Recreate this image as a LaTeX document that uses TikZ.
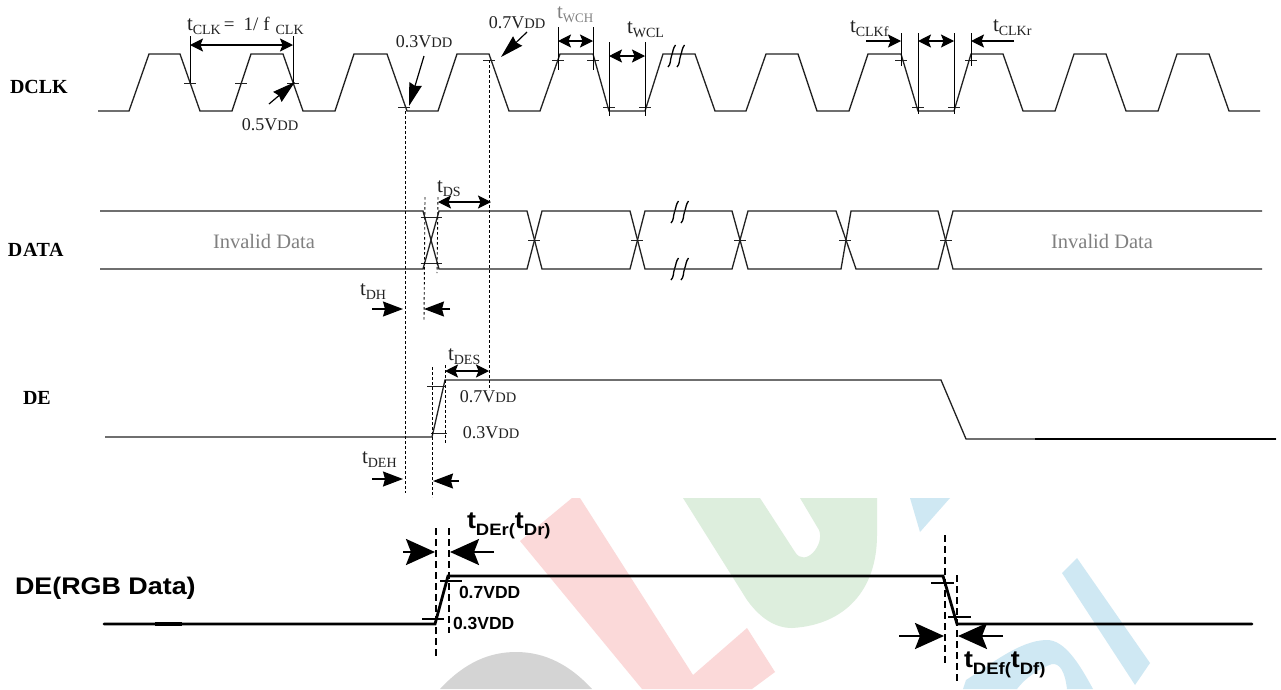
\documentclass[tikz,border=0pt]{standalone}
\usepackage{fontspec}
\setmainfont{Liberation Serif}
\newfontfamily\arialf{Liberation Sans}
\usetikzlibrary{arrows.meta}
\definecolor{wmred}{HTML}{FBD9D9}
\definecolor{wmgreen}{HTML}{DDEEDD}
\definecolor{wmblue}{HTML}{CFE8F3}
\definecolor{wmgray}{HTML}{D4D4D4}
\definecolor{ink}{HTML}{222222}
\newcommand{\fsz}[1]{\fontsize{#1}{#1}\selectfont}
\newcommand{\tsub}[1]{{\fsz{21}t}\raisebox{-4pt}{\fsz{14}#1}}
\newcommand{\vdd}[1]{{\fsz{18}#1V}{\fsz{14.5}DD}}
\newcommand{\bigt}[2]{\scalebox{1.12}[1]{\arialf\bfseries{\fsz{24}t}\raisebox{-7pt}{\fsz{16.5}#1}{\fsz{24}t}\raisebox{-7pt}{\fsz{16.5}#2}}}
\tikzset{
  sig/.style={draw=ink,line width=1.3pt,line join=miter},
  thin tick/.style={draw=ink,line width=1pt},
  guide/.style={draw=black,line width=0.9pt},
  dot/.style={draw=black,line width=0.9pt,dash pattern=on 2.5pt off 2.5pt},
  dash line/.style={draw=black,line width=1.6pt,dash pattern=on 7pt off 4pt},
  bold sig/.style={draw=black,line width=2.8pt,line cap=round},
  bold tick/.style={draw=black,line width=2.2pt},
  smallarrow/.style={draw=black,line width=1.3pt,{Stealth[length=13pt,width=13pt,inset=2.5pt]}-{Stealth[length=13pt,width=13pt,inset=2.5pt]}},
  onearrow/.style={draw=black,line width=1.3pt,-{Stealth[length=13pt,width=13pt,inset=2.5pt]}},
  midarrow/.style={draw=black,line width=1.3pt,-{Stealth[length=20pt,width=15pt,inset=2pt]}},
  callout/.style={draw=black,line width=1.2pt,-{Stealth[length=23pt,width=13pt,inset=2pt]}},
  bigarrow/.style={draw=black,line width=2.4pt,-{Stealth[length=29pt,width=26pt,inset=5pt]}},
  txt/.style={inner sep=0pt,outer sep=0pt,text=ink},
  rowlabel/.style={inner sep=0pt,outer sep=0pt,anchor=west,text=black,font=\fsz{20}\bfseries},
}
\begin{document}
\begin{tikzpicture}[x=1pt,y=-1pt]
\useasboundingbox (0,0) rectangle (1281,689);
\fill[white] (0,0) rectangle (1281,689);
% watermark
\fill[wmgray] (440,689) .. controls (465,662) and (490,652) .. (516,652) .. controls (545,652) and (570,665) .. (592,689) -- cycle;
\fill[wmred] (520,541) -- (572,498) -- (580,498) -- (693,675) -- (747,628) -- (775,672) -- (752,689) -- (642,689) -- cycle;
\fill[wmgreen] (683,498) -- (747,600) .. controls (760,618) and (775,628) .. (792,628) .. controls (845,625) and (877,590) .. (877,535) -- (877,498) -- (800,498) -- (819,530) .. controls (825,545) and (805,568) .. (795,552) -- (760,498) -- cycle;
\fill[wmblue] (910,498) -- (920,532) -- (950,498) -- cycle;
\fill[wmblue] (1062,573) -- (1077,558) -- (1150,663) -- (1135,685) -- cycle;
\fill[wmblue] (963,689) -- (966,680) .. controls (990,665) and (1020,640) .. (1047,640) .. controls (1065,640) and (1080,665) .. (1093,689) -- (1067,689) .. controls (1065,672) and (1060,663) .. (1052,664) .. controls (1040,668) and (1025,678) .. (1017,689) -- cycle;
% DCLK
\draw[sig] (98,111) -- (129,111) -- (149,54) -- (180,54) -- (200,111) -- (232,111) -- (251,54) -- (283,54) -- (303,111) -- (335,111) -- (354,54) -- (387,54) -- (407,111) -- (438,111) -- (457,54) -- (489,54) -- (509,111) -- (540,111) -- (560,54) -- (593,54) -- (609,111) -- (645,111) -- (663,54) -- (695,54) -- (715,111) -- (746,111) -- (766,54) -- (798,54) -- (817,111) -- (849,111) -- (868,54) -- (901,54) -- (918,111) -- (954,111) -- (971,54) -- (1003,54) -- (1023,111) -- (1055,111) -- (1074,54) -- (1106,54) -- (1126,111) -- (1158,111) -- (1177,54) -- (1209,54) -- (1229,111) -- (1260,111);
\foreach \x/\y in {190/83,241/83,293/83,404/107,489/60,558/60,593/60,609/107,645/107,901/60,918/107,954/107,971/60}
  \draw[thin tick] (\x-6,\y) -- (\x+6,\y);
\foreach \x/\a/\b in {190/36/83,293/36/83,558/27/70,593/27/70,609/42/116,645/42/116,901/33/66,918/33/114,954/33/114,971/33/66}
  \draw[guide] (\x,\a) -- (\x,\b);
\draw[smallarrow] (190,45) -- (293,45);
\draw[smallarrow] (558,41) -- (593,41);
\draw[smallarrow] (609,56) -- (645,56);
\draw[smallarrow] (918,41) -- (954,41);
\draw[onearrow] (866,41) -- (901,41);
\draw[onearrow] (1014,41) -- (971,41);
\draw[callout] (269,104) -- (295,82);
\draw[callout] (424,56) -- (409,106);
\draw[callout] (527,32) -- (501,57);
% breaks
\foreach \x/\y in {668/67,677/67,671/223,681/223,671/280,681/280}{
  \draw[black,line width=1.3pt] (\x,\y) .. controls (\x+3,\y-3) and (\x+2,\y-7) .. (\x+3.5,\y-11) .. controls (\x+5,\y-15) and (\x+5,\y-19) .. (\x+7.5,\y-22);
}
% DCLK labels
\node[rowlabel] (dclk) at (10,87) {DCLK};
\node[txt,anchor=base west] (tclk) at (187,30) {\tsub{CLK}\hspace{3pt}{\fsz{19}=}\hspace{9pt}{\fsz{19}1/}\hspace{5pt}{\fsz{19}f}\hspace{6pt}\raisebox{-4pt}{\fsz{14}CLK}};
\node[txt] (v05) at (270,125) {\vdd{0.5}};
\node[txt] (v03) at (424,42) {\vdd{0.3}};
\node[txt] (v07) at (517,23) {\vdd{0.7}};
\node[txt,anchor=base west,text=gray] (twch) at (557,18) {{\fsz{21}t}\raisebox{-4pt}{\fsz{13}WCH}};
\node[txt,anchor=base west] (twcl) at (627,33) {\tsub{WCL}};
\node[txt,anchor=base west] (tclkf) at (850,32) {\tsub{CLKf}};
\node[txt,anchor=base west] (tclkr) at (993,31) {\tsub{CLKr}};
% DATA
\draw[sig] (100,211) -- (423,211) -- (439,269) -- (527,269) -- (542,211) -- (630,211) -- (645,269) -- (732,269) -- (748,211) -- (836,211) -- (856,269) -- (938,269) -- (953,211) -- (1262,211);
\draw[sig] (100,269) -- (423,269) -- (439,211) -- (527,211) -- (542,269) -- (630,269) -- (645,211) -- (732,211) -- (748,269) -- (841,269) -- (851,211) -- (938,211) -- (953,269) -- (1262,269);
\foreach \x/\y/\w in {431/217/10.5,431/263/10.5,534/240/6,637/240/6,740/240/6,845/240/6,946/240/6}
  \draw[thin tick] (\x-\w,\y) -- (\x+\w,\y);
\node[rowlabel,font=\fsz{20}\bfseries\addfontfeatures{LetterSpace=3}] (data) at (8,250) {DATA};
\node[txt,text=gray,font=\fsz{20.5}] (inv1) at (264,241) {Invalid Data};
\node[txt,text=gray,font=\fsz{20.5}] (inv2) at (1102,241) {Invalid Data};
% DE
\draw[sig] (105,437) -- (432,437) -- (445,380) -- (941,380) -- (966,439) -- (1276,439);
\draw[draw=black,line width=1.7pt] (1035,439) -- (1276,439);
\draw[thin tick] (427,386) -- (445,386);
\draw[thin tick] (431,433) -- (447,433);
\node[rowlabel] (de) at (23,398) {DE};
% dotted
\draw[dot] (405.4,111) -- (405.4,493);
\draw[dot] (489.4,60) -- (489.4,390);
\draw[dot] (425,197) -- (424,320);
\draw[dot] (438,197) -- (437,273);
\draw[dot] (432.4,367) -- (432.4,497);
\draw[dot] (445.4,365) -- (445.4,443);
% data / de arrows
\draw[smallarrow] (438,202) -- (491,202);
\draw[smallarrow] (445,371) -- (489,371);
\draw[midarrow] (372,309) -- (403,309);
\draw[midarrow] (450,309) -- (424,309);
\draw[midarrow] (372,479) -- (403,479);
\draw[midarrow] (459,481) -- (433,481);
\node[txt,anchor=base west] (tds) at (437,192) {\tsub{DS}};
\node[txt,anchor=base west] (tdh) at (360,295) {\tsub{DH}};
\node[txt,anchor=base west] (tdes) at (448,360) {\tsub{DES}};
\node[txt,anchor=base west] (tdeh) at (362,463) {\tsub{DEH}};
\node[txt] (v07b) at (488,397) {\vdd{0.7}};
\node[txt] (v03b) at (491,433) {\vdd{0.3}};
% DE (RGB Data)
\draw[bold sig] (104,624) -- (435,624) -- (448,576) -- (943,576) -- (957,624) -- (1252,624);
\draw[black,line width=3.4pt] (155,624) -- (182,624);
\draw[bold tick] (440,581) -- (462,581);
\draw[bold tick] (422,619) -- (444,619);
\draw[bold tick] (931,583) -- (954,583);
\draw[bold tick] (948,617) -- (971,617);
\draw[dash line] (436,528) -- (436,658);
\draw[dash line] (449,528) -- (449,633);
\draw[dash line] (945,535) -- (945,665);
\draw[dash line] (957,575) -- (957,682);
\draw[bigarrow] (403,552) -- (435,552);
\draw[bigarrow] (494,552) -- (450,552);
\draw[bigarrow] (899,636) -- (944,636);
\draw[bigarrow] (1003,636) -- (958,636);
\node[inner sep=0pt,outer sep=0pt,anchor=base west] (tder) at (467,528) {\bigt{DEr(}{Dr)}};
\node[inner sep=0pt,outer sep=0pt,anchor=base west] (tdef) at (964,667) {\bigt{DEf(}{Df)}};
\node[inner sep=0pt,outer sep=0pt,anchor=west] (v07c) at (459,592) {\fsz{17.5}\arialf\bfseries 0.7VDD};
\node[inner sep=0pt,outer sep=0pt,anchor=west] (v03c) at (453,623) {\fsz{17.5}\arialf\bfseries 0.3VDD};
\node[inner sep=0pt,outer sep=0pt,anchor=west] (rgb) at (15,588) {\scalebox{1.12}[1]{\fsz{24}\arialf\bfseries DE(RGB Data)}};
\end{tikzpicture}
\end{document}
